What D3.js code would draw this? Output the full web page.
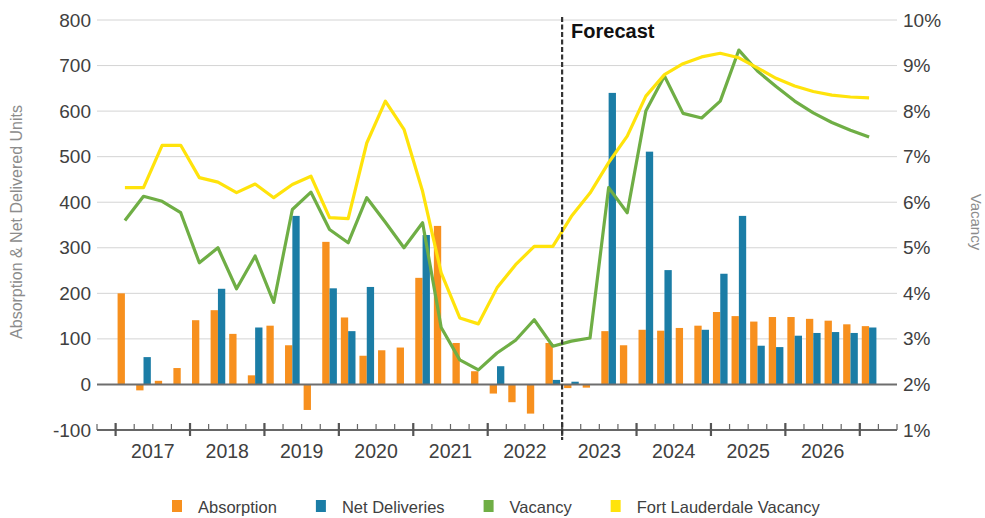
<!DOCTYPE html>
<html>
<head>
<meta charset="utf-8">
<script src="https://cdn.jsdelivr.net/npm/d3@7"></script>
<style>
  html, body { margin: 0; padding: 0; background: #ffffff; }
  svg { display: block; font-family: "Liberation Sans", Arial, Helvetica, sans-serif; }
</style>
</head>
<body>
<svg id="chart" width="985" height="518"></svg>
<script>
// Quarterly absorption / deliveries (units) and vacancy (%), 2017 Q1 – 2027 Q1
const quarters = [];
for (let y = 2017; y <= 2027; y++) {
  for (let q = 1; q <= 4; q++) {
    if (y === 2027 && q > 1) break;
    quarters.push(y + " Q" + q);
  }
}

const absorption = [
  200, -13, 8, 36,
  141, 163, 111, 20,
  129, 86, -56, 313,
  147, 63, 75, 81,
  234, 348, 91, 29,
  -20, -39, -64, 91,
  -8, -7, 117, 86,
  120, 118, 124, 129,
  159, 150, 138, 148,
  148, 144, 140, 132,
  128
];

const netDeliveries = [
  0, 60, 0, 0,
  0, 210, 0, 125,
  0, 370, 0, 211,
  117, 214, 0, 0,
  328, 0, 0, 0,
  40, 0, 0, 10,
  6, 0, 640, 0,
  511, 251, 0, 120,
  243, 370, 85, 82,
  107, 113, 115, 113,
  125
];

const vacancy = [
  5.60, 6.13, 6.02, 5.77,
  4.67, 5.00, 4.10, 4.82,
  3.80, 5.84, 6.22, 5.40,
  5.11, 6.10, 5.56, 5.00,
  5.55, 3.25, 2.54, 2.32,
  2.69, 2.97, 3.42, 2.84,
  2.95, 3.02, 6.32, 5.77,
  8.00, 8.77, 7.95, 7.85,
  8.22, 9.34, 8.88, 8.54,
  8.22, 7.96, 7.75, 7.58,
  7.43
];

const fortLauderdaleVacancy = [
  6.32, 6.32, 7.25, 7.25,
  6.54, 6.44, 6.21, 6.40,
  6.10, 6.39, 6.57, 5.66,
  5.64, 7.30, 8.22, 7.60,
  6.24, 4.45, 3.46, 3.33,
  4.12, 4.63, 5.03, 5.03,
  5.69, 6.20, 6.87, 7.45,
  8.33, 8.80, 9.04, 9.19,
  9.27, 9.17, 8.95, 8.72,
  8.55, 8.43, 8.35, 8.31,
  8.29
];

const years = [2017, 2018, 2019, 2020, 2021, 2022, 2023, 2024, 2025, 2026];
const leftTicks = [-100, 0, 100, 200, 300, 400, 500, 600, 700, 800];
const rightTicks = [1, 2, 3, 4, 5, 6, 7, 8, 9, 10];
const forecastStart = "2023 Q1";

const seriesNames = ["Absorption", "Net Deliveries", "Vacancy", "Fort Lauderdale Vacancy"];
const colors = {
  "Absorption": "#F7901E",
  "Net Deliveries": "#1B7DA6",
  "Vacancy": "#6FAE45",
  "Fort Lauderdale Vacancy": "#FFE30B"
};

// ---- layout ----
const svg = d3.select("#chart");
const plotLeft = 97, plotRight = 897, plotTop = 20, plotBottom = 430;
const textColor = "#404040";

// one empty quarter slot on each side of the data
const slots = ["2016 Q4", ...quarters, "2027 Q2"];
const x = d3.scaleBand().domain(slots).range([plotLeft, plotRight]).padding(0);
const step = x.step();
const xInner = d3.scaleBand().domain(["Absorption", "Net Deliveries"])
  .range([0, step]).paddingInner(0).paddingOuter(0.27);

const yLeft = d3.scaleLinear().domain([-100, 800]).range([plotBottom, plotTop]);
const yRight = d3.scaleLinear().domain([1, 10]).range([plotBottom, plotTop]);

// gridlines
svg.append("g")
  .selectAll("line")
  .data(leftTicks.filter(d => d > 0))
  .join("line")
  .attr("x1", plotLeft).attr("x2", plotRight)
  .attr("y1", d => yLeft(d)).attr("y2", d => yLeft(d))
  .attr("stroke", "#d4d4d4").attr("stroke-width", 1);

// left axis labels
const leftAxis = d3.axisLeft(yLeft).tickValues(leftTicks)
  .tickFormat(d => String(d)).tickSize(0).tickPadding(0);
svg.append("g")
  .attr("transform", `translate(${plotLeft - 6},0)`)
  .call(leftAxis)
  .call(g => g.select(".domain").remove())
  .call(g => g.selectAll("text")
    .attr("fill", textColor).attr("font-size", 19)
    .attr("font-family", "'Liberation Sans', Arial, sans-serif"));

// right axis labels
const rightAxis = d3.axisRight(yRight).tickValues(rightTicks)
  .tickFormat(d => d + "%").tickSize(0).tickPadding(0);
svg.append("g")
  .attr("transform", `translate(${plotRight + 6},0)`)
  .call(rightAxis)
  .call(g => g.select(".domain").remove())
  .call(g => g.selectAll("text")
    .attr("fill", textColor).attr("font-size", 19)
    .attr("font-family", "'Liberation Sans', Arial, sans-serif"));

// bars
const barData = [];
quarters.forEach((q, i) => {
  barData.push({ q, key: "Absorption", v: absorption[i] });
  barData.push({ q, key: "Net Deliveries", v: netDeliveries[i] });
});
svg.append("g")
  .selectAll("rect")
  .data(barData.filter(d => d.v !== 0))
  .join("rect")
  .attr("x", d => x(d.q) + xInner(d.key))
  .attr("width", xInner.bandwidth())
  .attr("y", d => yLeft(Math.max(0, d.v)))
  .attr("height", d => Math.abs(yLeft(d.v) - yLeft(0)))
  .attr("fill", d => colors[d.key]);

// zero baseline
svg.append("line")
  .attr("x1", plotLeft).attr("x2", plotRight)
  .attr("y1", yLeft(0)).attr("y2", yLeft(0))
  .attr("stroke", "#6e6e6e").attr("stroke-width", 2);

// bottom category axis with quarter ticks and year ticks
const axisG = svg.append("g");
axisG.append("line")
  .attr("x1", plotLeft).attr("x2", plotRight)
  .attr("y1", plotBottom).attr("y2", plotBottom)
  .attr("stroke", "#666").attr("stroke-width", 2);
const boundaries = slots.map(s => x(s)).concat([x(slots[slots.length - 1]) + step]);
axisG.selectAll("line.minor")
  .data(boundaries)
  .join("line").attr("class", "minor")
  .attr("x1", d => d).attr("x2", d => d)
  .attr("y1", plotBottom - 6).attr("y2", plotBottom)
  .attr("stroke", "#666").attr("stroke-width", 1.2);
const yearStarts = years.map(y => x(y + " Q1")).concat([x("2027 Q1")]);
axisG.selectAll("line.major")
  .data(yearStarts)
  .join("line").attr("class", "major")
  .attr("x1", d => d).attr("x2", d => d)
  .attr("y1", plotBottom - 7).attr("y2", plotBottom + 6)
  .attr("stroke", "#555").attr("stroke-width", 2.2);
axisG.selectAll("text")
  .data(years)
  .join("text")
  .attr("x", y => x(y + " Q1") + step * 2)
  .attr("y", 458)
  .attr("text-anchor", "middle")
  .attr("fill", textColor).attr("font-size", 19.5)
  .text(y => y);

// vacancy lines
const lineGen = d3.line()
  .x((d, i) => x(quarters[i]) + step / 2)
  .y(d => yRight(d));
[["Vacancy", vacancy], ["Fort Lauderdale Vacancy", fortLauderdaleVacancy]].forEach(([name, vals]) => {
  svg.append("path")
    .datum(vals)
    .attr("d", lineGen)
    .attr("fill", "none")
    .attr("stroke", colors[name])
    .attr("stroke-width", 3.2)
    .attr("stroke-linejoin", "round");
});

// forecast divider
const fx = x(forecastStart);
svg.append("line")
  .attr("x1", fx).attr("x2", fx)
  .attr("y1", 17).attr("y2", 440)
  .attr("stroke", "#333").attr("stroke-width", 2.2)
  .attr("stroke-dasharray", "5,2.5");
svg.append("text")
  .attr("x", fx + 9).attr("y", 38)
  .attr("font-size", 20).attr("font-weight", "bold").attr("fill", "#111")
  .text("Forecast");

// axis titles
svg.append("text")
  .attr("transform", "translate(22,222) rotate(-90)")
  .attr("text-anchor", "middle")
  .attr("fill", "#8c8c8c").attr("font-size", 16)
  .text("Absorption & Net Delivered Units");
svg.append("text")
  .attr("transform", "translate(971,222) rotate(90)")
  .attr("text-anchor", "middle")
  .attr("fill", "#8c8c8c").attr("font-size", 15)
  .text("Vacancy");

// legend
const legend = svg.append("g");
let lx = 172;
seriesNames.forEach(name => {
  legend.append("rect")
    .attr("x", lx).attr("y", 500).attr("width", 10).attr("height", 12)
    .attr("fill", colors[name]);
  const t = legend.append("text")
    .attr("x", lx + 26).attr("y", 513)
    .attr("fill", textColor).attr("font-size", 16.5)
    .text(name);
  lx += 26 + t.node().getComputedTextLength() + 39;
});
</script>
</body>
</html>
